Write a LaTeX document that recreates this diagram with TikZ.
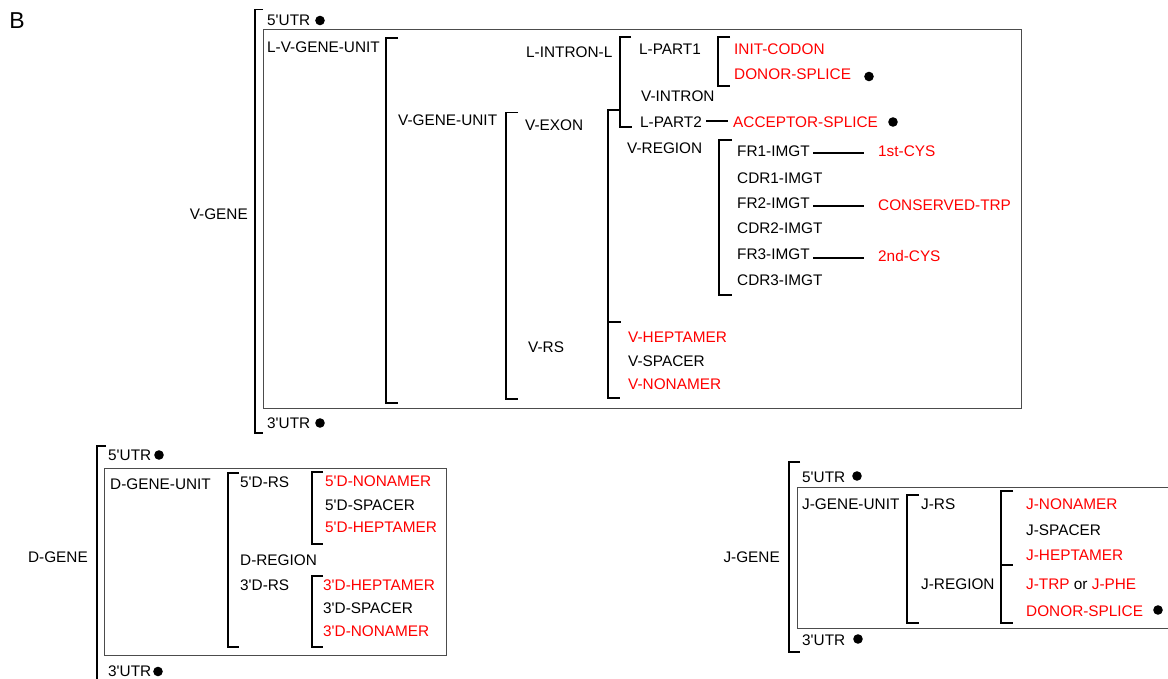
\documentclass[tikz,border=0pt]{standalone}
\usepackage{fontspec}
\setmainfont{Liberation Sans}[Ligatures=TeXOff]
\newcommand\lblfont{\fontsize{15.35}{18}\selectfont}
\begin{document}
\begin{tikzpicture}[x=1pt,y=-1pt,
  lbl/.style={anchor=west, inner sep=0pt, font=\lblfont, text height=10.9pt, text depth=0pt},
  rlbl/.style={lbl, text=red},
  elbl/.style={lbl, anchor=east},
  brk/.style={line width=1.8pt, black},
  boxln/.style={draw=black!70, line width=1pt},
  dotn/.style={circle, fill=black, inner sep=0pt, minimum size=9.6pt},
  link/.style={line width=1.8pt, black}]
\useasboundingbox (0,0) rectangle (1168,679);

\node[font=\fontsize{23}{26}\selectfont, inner sep=0pt] (B) at (17,21) {B};

% ================= V-GENE =================
\draw[boxln] (263,30) rectangle (1021,408);
\node[elbl] (vgene) at (248,214) {V-GENE};
\node[lbl] (v5utr) at (267,20) {5'UTR};
\node[dotn] (v5dot) at (320,20.5) {};
\node[lbl] (v3utr) at (267,423) {3'UTR};
\node[dotn] (v3dot) at (320,423) {};
\node[lbl] (lvgu) at (267,47) {L-V-GENE-UNIT};
\node[lbl] (vgu) at (398,120) {V-GENE-UNIT};
\node[lbl] (vexon) at (525,125.5) {V-EXON};
\node[lbl] (vrs) at (528,347) {V-RS};
\node[lbl] (lintron) at (526,52) {L-INTRON-L};
\node[lbl] (lpart1) at (639,49) {L-PART1};
\node[lbl] (vintron) at (641,96.5) {V-INTRON};
\node[lbl] (lpart2) at (640,122) {L-PART2};
\node[rlbl] (initc) at (734,49.5) {INIT-CODON};
\node[rlbl] (vdonor) at (734,74.5) {DONOR-SPLICE};
\node[dotn] (vdonordot) at (869,76.5) {};
\node[rlbl] (accept) at (733,122.5) {ACCEPTOR-SPLICE};
\node[dotn] (acceptdot) at (893,122) {};
\node[lbl] (vregion) at (627,148.5) {V-REGION};
\node[lbl] (fr1) at (737,151.5) {FR1-IMGT};
\node[rlbl] (cys1) at (878,151) {1st-CYS};
\node[lbl] (cdr1) at (737,178.5) {CDR1-IMGT};
\node[lbl] (fr2) at (737,203) {FR2-IMGT};
\node[rlbl] (ctrp) at (878,205) {CONSERVED-TRP};
\node[lbl] (cdr2) at (737,228.5) {CDR2-IMGT};
\node[lbl] (fr3) at (737,254.5) {FR3-IMGT};
\node[rlbl] (cys2) at (878,256.5) {2nd-CYS};
\node[lbl] (cdr3) at (737,280) {CDR3-IMGT};
\node[rlbl] (vhep) at (628,337.5) {V-HEPTAMER};
\node[lbl] (vspa) at (628,361) {V-SPACER};
\node[rlbl] (vnon) at (628,384) {V-NONAMER};

\draw[link] (706,121) -- (728,121);
\draw[link] (813,153) -- (864,153);
\draw[link] (813,206) -- (864,206);
\draw[link] (813,258) -- (864,258);

\draw[brk] (263,9.5) -- (255,9.5) -- (255,433) -- (263,433);
\draw[brk] (398,38) -- (386,38) -- (386,403) -- (398,403);
\draw[brk] (518,112.5) -- (506,112.5) -- (506,399) -- (518,399);
\draw[brk] (620,110) -- (608,110) -- (608,398) -- (620,398);
\draw[brk] (608,322) -- (621,322);
\draw[brk] (631,37) -- (620,37) -- (620,127) -- (632,127);
\draw[brk] (730,37) -- (718,37) -- (718,86) -- (730,86);
\draw[brk] (732,140) -- (719,140) -- (719,295) -- (732,295);

% ================= D-GENE =================
\draw[boxln] (104,468) rectangle (446,655);
\draw[brk] (106,446) -- (97,446) -- (97,685);
\node[elbl] (dgene) at (88,557) {D-GENE};
\node[lbl] (d5utr) at (108,455) {5'UTR};
\node[dotn] (d5dot) at (159,455) {};
\node[lbl] (d3utr) at (108,671.5) {3'UTR};
\node[dotn] (d3dot) at (158,671.5) {};
\node[lbl] (dgu) at (110,484) {D-GENE-UNIT};
\node[lbl] (d5rs) at (240,482) {5'D-RS};
\node[lbl] (dreg) at (240,560) {D-REGION};
\node[lbl] (d3rs) at (240,585) {3'D-RS};
\node[rlbl] (d5non) at (325,481) {5'D-NONAMER};
\node[lbl] (d5spa) at (325,505) {5'D-SPACER};
\node[rlbl] (d5hep) at (325,527.5) {5'D-HEPTAMER};
\node[rlbl] (d3hep) at (323,585) {3'D-HEPTAMER};
\node[lbl] (d3spa) at (323,608.5) {3'D-SPACER};
\node[rlbl] (d3non) at (323,631.5) {3'D-NONAMER};
\draw[brk] (239,473) -- (228,473) -- (228,647) -- (239,647);
\draw[brk] (323,472) -- (312,472) -- (312,544) -- (323,544);
\draw[brk] (323,576) -- (312,576) -- (312,647) -- (323,647);

% ================= J-GENE =================
\draw[boxln] (1175,487) -- (797,487) -- (797,628) -- (1175,628);
\draw[brk] (800,462) -- (789,462) -- (789,652) -- (800,652);
\node[elbl] (jgene) at (780,557) {J-GENE};
\node[lbl] (j5utr) at (802,477.5) {5'UTR};
\node[dotn] (j5dot) at (857,476) {};
\node[lbl] (j3utr) at (802,640) {3'UTR};
\node[dotn] (j3dot) at (858,639) {};
\node[lbl] (jgu) at (802,504) {J-GENE-UNIT};
\node[lbl] (jrs) at (921,504) {J-RS};
\node[lbl] (jreg) at (921,584) {J-REGION};
\node[rlbl] (jnon) at (1026,504) {J-NONAMER};
\node[lbl] (jspa) at (1026,530) {J-SPACER};
\node[rlbl] (jhep) at (1026,555.5) {J-HEPTAMER};
\node[lbl] (jtrp) at (1026,584) {\textcolor{red}{J-TRP} or \textcolor{red}{J-PHE}};
\node[rlbl] (jdon) at (1026,611) {DONOR-SPLICE};
\node[dotn] (jdondot) at (1158,610) {};
\draw[brk] (919,495) -- (907,495) -- (907,623) -- (919,623);
\draw[brk] (1013,491) -- (1001,491) -- (1001,623) -- (1013,623);
\draw[brk] (1001,565) -- (1013,565);
\end{tikzpicture}
\end{document}
